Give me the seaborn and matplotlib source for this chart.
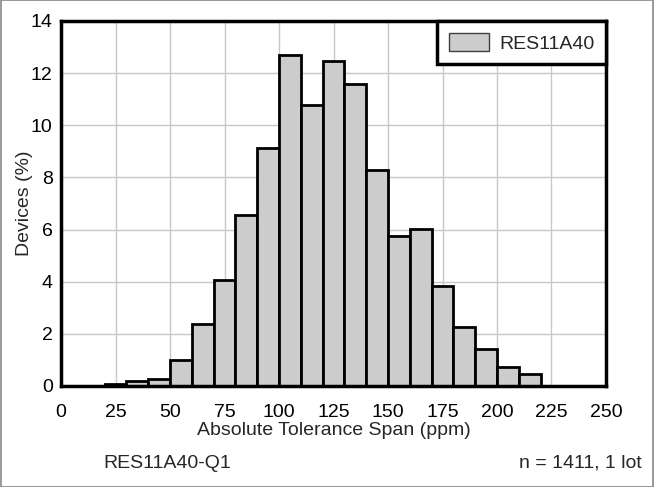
import numpy as np
import pandas as pd
import matplotlib.pyplot as plt
import seaborn as sns
from matplotlib.patches import Patch, Rectangle

# ---------- Data ----------
bin_edges = [20, 30, 40, 50, 60, 70, 80, 90, 100, 110, 120,
             130, 140, 150, 160, 170, 180, 190, 200, 210, 220]
devices_pct = [0.07, 0.2, 0.28, 0.98, 2.37, 4.05, 6.54, 9.14, 12.70, 10.76,
               12.48, 11.58, 8.30, 5.74, 6.04, 3.82, 2.25, 1.40, 0.74, 0.47]
series_name = "RES11A40"
x_ticks = [0, 25, 50, 75, 100, 125, 150, 175, 200, 225, 250]
y_ticks = [0, 2, 4, 6, 8, 10, 12, 14]

centers = [(a + b) / 2 for a, b in zip(bin_edges[:-1], bin_edges[1:])]
df = pd.DataFrame({"span": centers, "pct": devices_pct})

# ---------- Style ----------
sns.set_style("whitegrid")
plt.rcParams["font.family"] = ["Liberation Sans", "DejaVu Sans"]
FS = 14

fig = plt.figure(figsize=(6.54, 4.87), dpi=100)
ax = fig.add_axes([0.0933, 0.2074, 0.8333, 0.7495])

sns.histplot(data=df, x="span", weights="pct", bins=bin_edges, ax=ax,
             color="#cccccc", alpha=1, edgecolor="black", linewidth=2)

ax.set_xlim(0, 250)
ax.set_ylim(0, 14)
ax.set_xticks(x_ticks)
ax.set_yticks(y_ticks)
ax.grid(True, color="#c8c8c8", linewidth=1)
ax.set_axisbelow(True)
ax.tick_params(axis="x", length=0, pad=13, labelsize=FS, colors="black")
ax.tick_params(axis="y", length=0, pad=6, labelsize=FS, colors="black")
for s in ax.spines.values():
    s.set_color("black")
    s.set_linewidth(2.5)

ax.set_xlabel("Absolute Tolerance Span (ppm)", fontsize=FS, labelpad=1)
ax.set_ylabel("Devices (%)", fontsize=FS)
ax.yaxis.set_label_coords(-0.052, 0.5)

leg = ax.legend(handles=[Patch(facecolor="#cccccc", edgecolor="#404040",
                               linewidth=1, label=series_name)],
                loc="upper right", fontsize=FS, frameon=True, fancybox=False,
                borderaxespad=0, handlelength=2.1, handleheight=1.1,
                borderpad=0.6, handletextpad=0.5)
leg.get_frame().set_edgecolor("black")
leg.get_frame().set_linewidth(2.5)
leg.get_frame().set_alpha(1)

fig.text(0.256, 0.049, "RES11A40-Q1", ha="center", va="center", fontsize=FS)
fig.text(0.981, 0.049, "n = 1411, 1 lot", ha="right", va="center", fontsize=FS)

fig.patches.append(Rectangle((0.001, 0.001), 0.998, 0.998, transform=fig.transFigure,
                             fill=False, edgecolor="#888888", linewidth=1.2))

fig.savefig("out.png", dpi=100)
